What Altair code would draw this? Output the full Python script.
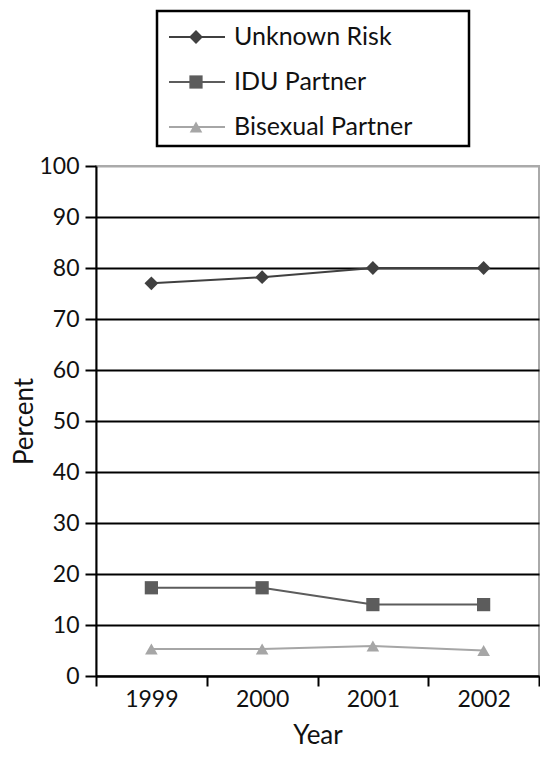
import altair as alt
import pandas as pd

years = [1999, 2000, 2001, 2002]
series = ["Unknown Risk", "IDU Partner", "Bisexual Partner"]
unknown_risk = [77.0, 78.2, 80.0, 80.0]
idu_partner = [17.3, 17.3, 14.0, 14.0]
bisexual_partner = [5.3, 5.3, 5.9, 5.0]
colors = ["#404040", "#5c5c5c", "#a6a6a6"]
shapes = ["diamond", "square", "triangle-up"]
sizes = [190, 160, 250]
y_ticks = list(range(0, 101, 10))
x_ticks = [1998.5, 1999, 1999.5, 2000, 2000.5, 2001, 2001.5, 2002, 2002.5]

rows = []
for name, vals in zip(series, [unknown_risk, idu_partner, bisexual_partner]):
    for yr, v in zip(years, vals):
        rows.append({"year": yr, "pct": v, "series": name})
df = pd.DataFrame(rows)
leg = pd.DataFrame({"series": series})
box = pd.DataFrame({"box": [0]})

FONT = "Lato"
TXT = "#111111"

color = alt.Color("series:N", scale=alt.Scale(domain=series, range=colors), legend=None)
shape = alt.Shape("series:N", scale=alt.Scale(domain=series, range=shapes), legend=None)
size = alt.Size("series:O", scale=alt.Scale(domain=series, range=sizes), legend=None)

x = alt.X(
    "year:Q",
    title="Year",
    scale=alt.Scale(domain=[1998.5, 2002.5], nice=False, zero=False),
    axis=alt.Axis(
        values=x_ticks,
        labelExpr="datum.value % 1 == 0 ? datum.value : ''",
        tickOpacity=alt.condition("datum.value % 1 == 0", alt.value(0), alt.value(1)),
        tickSize=10,
        labelPadding=2,
        labelOverlap=False,
        labelFlush=False,
        grid=False,
        titlePadding=11,
    ),
)
y = alt.Y(
    "pct:Q",
    title="Percent",
    scale=alt.Scale(domain=[0, 100], nice=False),
    axis=alt.Axis(
        values=y_ticks,
        tickSize=11,
        labelPadding=6,
        grid=True,
        gridWidth=2,
        gridColor=alt.condition("datum.value >= 100", alt.value("#aaaaaa"), alt.value("black")),
        titlePadding=1,
    ),
)

lines = alt.Chart(df).mark_line(strokeWidth=2).encode(x=x, y=y, color=color, detail="series:N")
points = alt.Chart(df).mark_point(filled=True, opacity=1).encode(
    x="year:Q", y="pct:Q", color=color, shape=shape, size=size
)
main = alt.layer(lines, points)

ly = alt.Y("series:N", sort=series, axis=None,
           scale=alt.Scale(type="point", domain=series, range=[-129, -39], padding=0))
leg_box = alt.Chart(box).mark_rect(fill=None, stroke="black", strokeWidth=2.5).encode(
    x=alt.value(61), x2=alt.value(373), y=alt.value(-155), y2=alt.value(-20)
)
leg_rule = alt.Chart(leg).mark_rule(strokeWidth=2).encode(
    x=alt.value(73), x2=alt.value(129), y=ly, color=color
)
leg_pt = alt.Chart(leg).mark_point(filled=True, opacity=1).encode(
    x=alt.value(100), y=ly, color=color, shape=shape, size=size
)
leg_txt = alt.Chart(leg).mark_text(align="left", baseline="middle", font=FONT, fontSize=25, color=TXT).encode(
    x=alt.value(138), y=ly, text="series:N"
)
legend = alt.layer(leg_box, leg_rule, leg_pt, leg_txt)

chart = (
    alt.layer(main, legend)
    .resolve_scale(y="independent")
    .properties(
        width=532,
        height=740,
        padding={"left": 3, "top": 1, "right": 0, "bottom": 0},
        autosize=alt.AutoSizeParams(type="fit", contains="padding"),
    )
    .configure_view(stroke="#aaaaaa", strokeWidth=2)
    .configure_axis(
        domainColor="black",
        domainWidth=2,
        tickColor="black",
        tickWidth=2,
        labelFont=FONT,
        labelFontSize=23,
        labelColor=TXT,
        titleFont=FONT,
        titleFontSize=26,
        titleFontWeight="normal",
        titleColor=TXT,
    )
)

chart.save("out.html", embed_options={"renderer": "svg", "actions": False})
